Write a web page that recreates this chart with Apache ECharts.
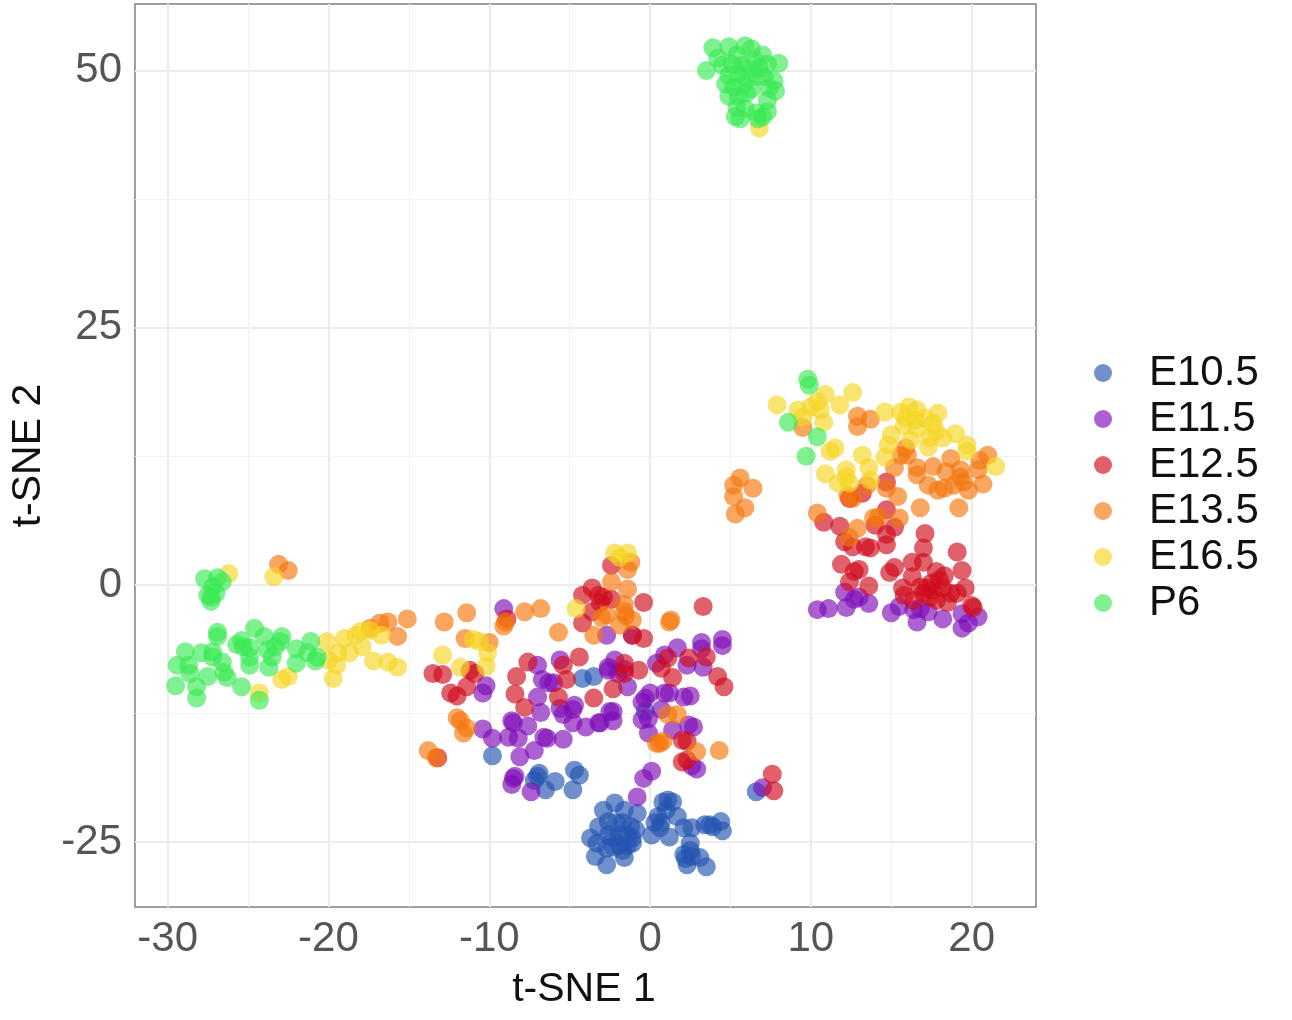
<!DOCTYPE html>
<html><head><meta charset="utf-8">
<style>html,body{margin:0;padding:0;background:#fff}#c{width:1292px;height:1020px}</style>
<script src="https://cdn.jsdelivr.net/npm/echarts@6/dist/echarts.min.js"></script>
</head><body><div id="c"></div>
<script>
const xTicks=[-30,-20,-10,0,10,20];
const yTicks=[-25,0,25,50];
const xMinor=[-25,-15,-5,5,15];
const yMinor=[-12.5,12.5,37.5];
const stages=['E10.5','E11.5','E12.5','E13.5','E16.5','P6'];
const E105=[[-9.8,-16.6],[-6.9,-18.3],[-7.2,-19],[-5.9,-19.1],[-6.5,-19.9],[-4.7,-18],[-4.4,-18.5],[-4.8,-19.9],[-7,-18.6],[-4.2,-9.1],[-3.5,-8.9],[6.6,-20.1],[-0.3,-12.3],
[-2.9,-21.9],[-2.2,-21.2],[-1.6,-21.9],[-0.8,-22.2],[-3.2,-23.5],[-3.7,-24.6],[-3.3,-25.1],[-3.4,-26.4],[-2.7,-27.2],[-1.6,-26.5],[-2.6,-23],[-2.1,-23.1],[-1.7,-23.1],[-1.2,-23.5],[-0.9,-23.8],[-2.6,-24.3],[-2.3,-24.6],[-1.9,-24.3],[-1.4,-24.3],[-1.1,-24.6],[-2.7,-25.6],[-2.3,-25.5],[-1.9,-25.3],[-1.4,-25.3],[-1.1,-25.1],[-1.7,-25.8],
[1.1,-20.9],[0.8,-21.1],[1.4,-21.1],[1,-21.9],[0.5,-22.5],[1.7,-22.5],[0.3,-23.1],[0.7,-23.1],[0.1,-24.3],[1.2,-24.5],[0.6,-23.6],[2.1,-23.6],[2.6,-23.6],[3.4,-23.3],[3.7,-23.3],[4.4,-23],[4.5,-23.9],[3.9,-23.5],
[2.5,-25.1],[2.1,-26.2],[2.3,-27.2],[2.6,-26.4],[3.1,-26.5],[3.5,-27.4],[2.2,-26.6],[2.5,-25.8]];
const E115=[[10.4,-2.4],[11.1,-2.3],[12.2,-2.2],[12.1,-0.7],[12.7,-1.4],[13,-1.2],[13.6,-1.8],[15,-2.7],[15.5,-2.1],[16.6,-3.6],[16.8,-2.3],[17.3,-2.6],[18.2,-3.3],[19.4,-4.2],[19.8,-3.7],[20.4,-3.1],[19.4,-2.8],[16.4,-2.4],
[-9.1,-2.3],[-10.2,-9.8],[-10.4,-10.5],[-10.4,-14],[-9.8,-14.9],[-8.8,-14.8],[-8.2,-14.9],[-8.6,-13.2],[-7.6,-13.7],[-8.5,-13.4],[-6.6,-14.8],[-6.4,-14.9],[-7.2,-16.1],[-8.1,-16.7],[-5.4,-15],[-6.8,-12.4],[-7,-10.9],[-6.7,-9.2],[-6.3,-9.5],[-6,-9.5],[-7,-7.8],[-5.6,-12],[-5.4,-12.6],[-4.8,-12.1],[-4.7,-11.7],[-4.8,-13.4],[-4,-13.8],[-3.1,-13.4],[-2.5,-12.3],[-8.5,-18.8],[-8.6,-19.4],[-8.4,-18.6],[-7.4,-20.1],[-5.6,-7.3],
[-2.7,-4.9],[-1.1,-4.9],[-2.2,-7.3],[-2.6,-8],[0.4,-7.6],[0.9,-6.8],[1.7,-6.1],[2.3,-7.8],[3.2,-5.6],[3.2,-6.2],[3.3,-8],[4.5,-5.3],[4.5,-5.9],[-2,-8.6],[-1.6,-8.2],
[-1.4,-9.9],[-2.6,-8.3],[-2.3,-12.3],[-2.3,-13.2],[-3.2,-13.4],[-0.3,-11],[-0.5,-11.4],[0,-10.5],[0.9,-10.5],[1.2,-10.5],[2.1,-10.9],[2.5,-10.8],[0.7,-12.1],[-0.5,-13.1],[-0.1,-13],[-0.1,-14.4],[1.4,-14.1],[2.4,-13.6],[2.7,-13.8],[0.1,-18.1],[-0.4,-18.8],[-0.8,-20.6],[2.9,-17.9],[2.6,-17.6],[7,-19.7]];
const E125=[[10.8,6.1],[11.8,5.7],[12.1,4.2],[12.6,3.7],[13.4,3.7],[13.7,3.6],[14.7,7.3],[15.2,5.6],[14.7,4.9],[14.7,3.9],[17.1,5],[17,3.6],[19.1,3.2],[11.9,2],[12.7,1.3],[13,1.5],[12.4,0.3],[13.6,-0.1],[14.9,1.2],[15.2,1.7],[16.3,2.2],[17,2.2],[16.3,0.8],[15.7,-0.3],[15.8,-1],[17.8,1.3],[19.4,1.4],[19.6,-0.3],[17.2,-0.3],[17.6,-0.5],[18,0.5],[18.2,-0.3],[18.7,-0.8],[17.4,-1.2],[17.8,-1.5],[18.5,-1.7],[19.1,-0.8],[17,-0.8],[16.4,-1.5],[20,-2],[20.1,-2.2],[12.4,8.4],[14,5.8],[13.2,8.9],[14.7,10],[17.5,0.2],[18.3,0.9],[16.8,-0.2],
[-8.9,-3.3],[-13.5,-8.6],[-12.9,-8.7],[-12.4,-10.5],[-12,-10.8],[-11.4,-9.9],[-11.2,-8.3],[-10.9,-8.6],[-8.3,-8.9],[-8.4,-10.6],[-7.8,-11.9],[-7.6,-7.5],[-5.4,-7.8],[-5.2,-9.2],[-5.7,-10.9],[-3.5,-11],[-4.4,-7],[-13.2,-16.8],
[-2.4,1.9],[-3.6,-0.3],[-4.2,-1],[-3.2,-1],[-2.9,-1.2],[-3.1,-1.7],[-2.4,-1.4],[-3.6,-2.6],[-4.2,-3.7],[-0.4,-1.7],[3.3,-2.1],[-1.1,-4.9],[-0.4,-5.2],[-1.6,-7.6],[-0.7,-8.3],[-1.6,-8.6],[1.1,-7.1],[0.7,-8.1],[2.4,-7.1],[3.5,-7],[1.4,-9],[4.2,-8.9],[4.6,-9.9],[-2.3,-10.1],[7.6,-18.4],[7.7,-20],[2,-17.2],[2.3,-17],[2,-15.1],[2.3,-15.2]];
const E135=[[12.9,16.4],[13.7,16.1],[12.9,15.4],[9.5,15.3],[16,12.6],[15.6,12.6],[15.9,13.3],[15.2,11.4],[16.6,11.4],[16.6,10.7],[17.6,11.5],[18.7,12.3],[18.4,11],[19.3,10.5],[20.4,11.2],[21,12.6],[20.5,12.1],[17.3,9.7],[17.9,9.2],[18.3,9.4],[18.9,9.7],[19.8,9.2],[20.7,9.8],[19.3,11.2],[19.5,10],[14.7,9.4],[15.4,8.6],[12.6,8.4],[12.3,8.7],[13.5,9.7],[16.8,7.5],[19.2,7.5],[10.4,7],[13.9,6.5],[14.2,6.6],[15.5,6.5],[12.9,5.5],[12.4,4.6],
[5.6,10.4],[5.2,9.7],[6.4,9.4],[5.2,8.6],[5.9,7.5],[5.3,6.9],
[-23.1,2],[-22.5,1.4],[-17.4,-4.2],[-16.3,-3.6],[-16.8,-3.7],[-15.1,-3.3],[-15.7,-5],[-12.8,-3.6],[-11.4,-2.7],[-11.5,-5.2],[-10,-5.6],[-7.8,-2.6],[-6.8,-2.3],[-5.7,-4.6],[-9.1,-4],[-9,-3.6],[-12,-12.9],[-11.8,-13.2],[-11.4,-13.9],[-11.6,-14.4],[-13.8,-16.1],[-13.3,-16.8],
[-2.4,0.3],[-1.4,-0.4],[-1.4,1.5],[-1.2,2.2],[-2.7,-2.9],[-3,-3.2],[-1.6,-2.6],[-1.5,-3],[-1.1,-3.4],[-1.9,-3.9],[-3.5,-4.9],[1.2,-3.6],[1.3,-3.4],[-1.6,-1.9],[1.1,-12.6],[1.7,-12.6],[0.6,-15.4],[0.4,-15.4],[0.8,-15.2],[2.9,-16.2],[4.3,-16.1]];
const E165=[[6.8,44.4],[7.9,17.5],[12.6,18.7],[10.9,18.5],[10.4,17.8],[9.2,17],[10,17.3],[10.6,17],[11.8,17.5],[10.8,15.8],[9.5,16.3],[11.5,13.3],[11.2,13],[13.2,12.6],[10.9,10.8],[12.2,11.2],[12.2,10.5],[12.4,9.9],[11.7,9.9],[13.6,11.4],[13.7,10.2],[14.6,16.8],
[15.6,16.8],[16.1,17.3],[16.6,17],[15.9,16.2],[16.5,16],[17.1,16.2],[15.8,15.5],[16.6,15.2],[17.9,16.7],[17.6,15.7],[17.8,14.9],[17.4,14.3],[17.3,13.4],[18.2,14.3],[19,14.7],[19.7,13.6],[19.7,13],[15,14.6],[14.8,13.6],[14.6,12.4],[16.2,14.1],[21.5,11.5],
[-26.2,1.1],[-23.4,0.8],[-22.9,-9.2],[-22.5,-8.9],[-24.3,-10.5],[-19.7,-9.1],[-20.1,-5.5],[-20,-7.3],[-19.5,-7.8],[-19.4,-6.6],[-18.7,-6.6],[-19,-5.2],[-18.3,-4.9],[-17.9,-6],[-18,-4.5],[-17.2,-7.4],[-16.3,-7.5],[-15.7,-8],[-17.4,-4.4],[-16.7,-4.9],
[-11,-5.3],[-10.6,-5.5],[-12.9,-6.8],[-10.1,-6.6],[-10.2,-7.9],[-11.8,-8],[-2.2,3.1],[-1.4,3.1],[-1.9,2.7],[-4.6,-2.3]];
const P6=[[3.5,50],[3.9,52.2],[4.2,51.2],[4.9,52.3],[5.4,51.5],[5.9,52.4],[6.3,52.1],[6.5,51],[7,51.5],[4.5,50.5],[5.1,50.6],[5.7,50.5],[6.2,50.2],[6.8,50.2],[7.3,50.6],[8,50.7],[4.9,49.5],[5.5,49.7],[6,49.3],[6.6,49.4],[7.1,49.4],[7.7,49],[4.7,48.7],[5.2,48.4],[5.8,48.6],[6.3,48.2],[7.4,48.3],[7.8,48],[4.9,47.5],[5.5,47.5],[6,47.8],[7.3,47.1],[5.4,46.4],[5.9,46.3],[6.6,45.9],[5.3,45.5],[5.6,45.3],[6.7,45.3],[7.3,46],[7,45.5],
[9.8,20],[9.9,19.4],[8.6,15.8],[10.4,14.4],[9.7,12.5],
[-27.7,0.6],[-26.9,0.7],[-26.6,0.3],[-27.2,-0.2],[-27,-0.8],[-27.5,-1],[-27.3,-1.6],[-27.3,-1.2],[-26.9,-4.6],[-26.9,-5],[-24.6,-4.2],[-22.9,-5],[-21.1,-5.5],[-28.9,-6.5],[-29.4,-7.8],[-29.5,-9.8],[-28.7,-7.8],[-28.2,-9.9],[-28.2,-11],[-27.5,-8.9],[-28.6,-8.6],[-26.3,-9],[-25.4,-9.9],[-24.3,-11.2],[-27.9,-6.6],[-27.2,-6.5],[-26.6,-7.5],[-27.2,-7],[-26.5,-8.5],[-25.7,-5.8],[-25.3,-6],[-25.4,-5.4],[-24.9,-6.1],[-24.9,-7.8],[-24.9,-7],[-24,-5],[-23.8,-6.3],[-23.7,-8],[-23.3,-6],[-23,-5.5],[-23.5,-7],[-22,-6.2],[-22,-7.6],[-21.3,-6.6],[-20.7,-7],[-20.8,-7.4]];
const seriesValues=[E105,E115,E125,E135,E165,P6];
const colors=['#2355B1','#7E0CB7','#D00B1C','#F4760B','#F6D622','#3BEA55'];

const xLine=(vals)=>vals.map(v=>({xAxis:v}));
const yLine=(vals)=>vals.map(v=>({yAxis:v}));
const chart=echarts.init(document.getElementById('c'),null,{renderer:'canvas'});
const font='"Liberation Sans",Arial,sans-serif';
chart.setOption({
  animation:false,
  backgroundColor:'#fff',
  textStyle:{fontFamily:font},
  grid:{left:135,top:4,width:901,height:903,show:true,borderColor:'#808080',borderWidth:1.5,backgroundColor:'#fff',containLabel:false,outerBoundsMode:'none'},
  legend:{orient:'vertical',left:1089,top:345,itemWidth:18,itemHeight:18,itemGap:0,icon:'circle',selectedMode:false,
    data:stages,textStyle:{fontSize:42,fontFamily:font,color:'#111',lineHeight:46,height:46,padding:[0,0,0,32]}},
  xAxis:{type:'value',min:-32.03,max:24,
    name:'t-SNE 1',nameLocation:'middle',nameGap:62,nameTextStyle:{fontSize:41,color:'#111',fontFamily:font,padding:[0,3,0,0]},
    axisLine:{show:false},splitLine:{show:false},
    axisTick:{show:true,length:5,customValues:xTicks,lineStyle:{color:'#777',width:1.5}},
    axisLabel:{customValues:xTicks,fontSize:42,color:'#555',margin:11,fontFamily:font,hideOverlap:false,showMinLabel:true,showMaxLabel:true}},
  yAxis:{type:'value',min:-31.3,max:56.46,
    name:'t-SNE 2',nameLocation:'middle',nameGap:86,nameTextStyle:{fontSize:41,color:'#111',fontFamily:font},
    axisLine:{show:false},splitLine:{show:false},
    axisTick:{show:true,length:5,customValues:yTicks,lineStyle:{color:'#777',width:1.5}},
    axisLabel:{customValues:yTicks,fontSize:42,color:'#555',margin:13,padding:[4,0,0,0],fontFamily:font,showMinLabel:true,showMaxLabel:true}},
  series:[
    {type:'scatter',name:'grid',data:[],z:1,silent:true,
     markLine:{silent:true,symbol:'none',label:{show:false},animation:false,z:1,
       lineStyle:{color:'#ececec',width:2.2,type:'solid'},
       data:[...xLine(xTicks),...yLine(yTicks)]}},
    {type:'scatter',name:'gridMinor',data:[],z:1,silent:true,
     markLine:{silent:true,symbol:'none',label:{show:false},animation:false,z:1,
       lineStyle:{color:'#f3f3f3',width:1.2,type:'solid'},
       data:[...xLine(xMinor),...yLine(yMinor)]}},
    ...stages.map((s,i)=>({type:'scatter',name:s,data:seriesValues[i],symbol:'circle',symbolSize:19,z:3+i,
      itemStyle:{color:colors[i],opacity:0.65,borderWidth:0},emphasis:{disabled:true}}))
  ]
});
</script></body></html>
